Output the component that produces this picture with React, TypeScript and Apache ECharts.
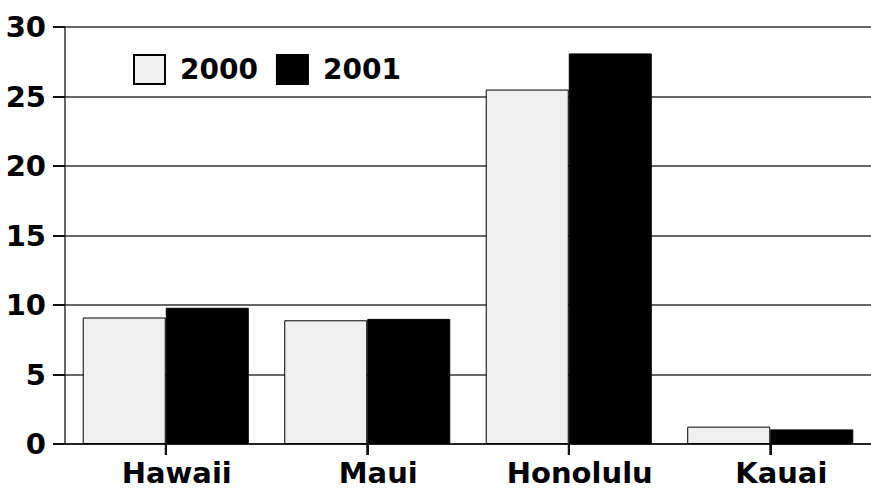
import React, { useEffect, useRef } from "react";
import * as echarts from "echarts";

const categories = ["Hawaii", "Maui", "Honolulu", "Kauai"];
const series2000 = [9.1, 8.9, 25.5, 1.25];
const series2001 = [9.8, 9.0, 28.1, 1.05];
const yTicks = [0, 5, 10, 15, 20, 25, 30];

const FONT = "'DejaVu Sans', sans-serif";

export default function App() {
  const ref = useRef<HTMLDivElement>(null);
  useEffect(() => {
    if (!ref.current) return;
    const chart = echarts.init(ref.current, null, { renderer: "svg" });
    chart.setOption({
      animation: false,
      backgroundColor: "#ffffff",
      grid: { left: 65, top: 27, width: 812, height: 417, containLabel: false },
      legend: {
        left: 133,
        top: 54,
        padding: 0,
        itemWidth: 31,
        itemHeight: 29,
        itemGap: 18,
        icon: "rect",
        textStyle: { fontFamily: FONT, fontWeight: "bold", fontSize: 28, color: "#000", padding: [0, 0, 0, 10] },
        data: ["2000", "2001"],
      },
      xAxis: {
        type: "category",
        data: categories,
        axisLine: { show: true, lineStyle: { color: "#222", width: 2 } },
        axisTick: { show: true, alignWithLabel: true, length: 11, lineStyle: { color: "#111", width: 2 } },
        axisLabel: {
          interval: 0,
          fontFamily: FONT,
          fontWeight: "bold",
          fontSize: 29,
          color: "#000",
          margin: 14,
          padding: [0, 0, 0, 22],
        },
      },
      yAxis: {
        type: "value",
        min: yTicks[0],
        max: yTicks[yTicks.length - 1],
        interval: 5,
        axisLine: { show: true, lineStyle: { color: "#333", width: 1.5 } },
        axisTick: { show: true, length: 12, lineStyle: { color: "#111", width: 2 } },
        splitLine: { lineStyle: { color: "#333", width: 1.5 } },
        axisLabel: {
          fontFamily: FONT,
          fontWeight: "bold",
          fontSize: 29,
          color: "#000",
          margin: 19,
        },
      },
      series: [
        {
          name: "2000",
          type: "bar",
          data: series2000,
          barGap: "0%",
          barCategoryGap: "17.6%",
          itemStyle: { color: "#efefef", borderColor: "#000", borderWidth: 1 },
        },
        {
          name: "2001",
          type: "bar",
          data: series2001,
          itemStyle: { color: "#000000", borderColor: "#000", borderWidth: 1 },
        },
        {
          name: "ticks",
          type: "custom",
          clip: false,
          silent: true,
          z: 10,
          data: categories.map((c, i) => [i, 0]),
          renderItem: (params: any, api: any) => {
            const p = api.coord([api.value(0), 0]);
            return {
              type: "line",
              shape: { x1: p[0], y1: p[1], x2: p[0], y2: p[1] + 11 },
              style: { stroke: "#111", lineWidth: 2 },
            };
          },
        },
      ],
    });
    return () => chart.dispose();
  }, []);
  return <div ref={ref} style={{ width: 871, height: 491, position: "absolute", left: 0, top: 0 }} />;
}
